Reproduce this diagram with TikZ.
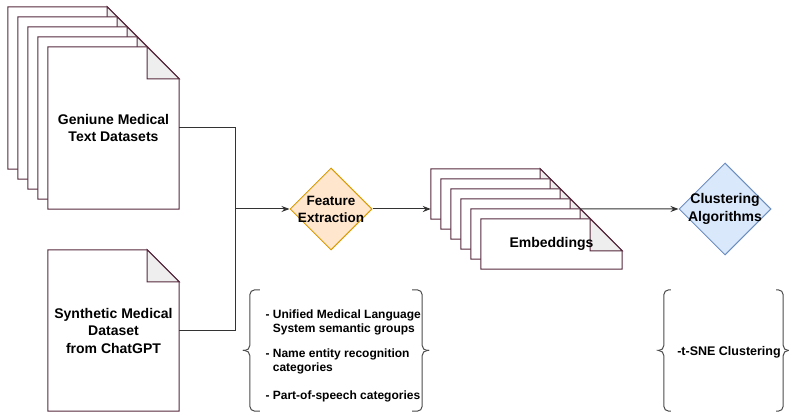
\documentclass[tikz,border=0pt]{standalone}
\usepackage{fontspec}
\setmainfont{Liberation Sans}
\usetikzlibrary{arrows.meta,positioning,shapes.geometric,calc}

\definecolor{pageedge}{HTML}{56283C}
\definecolor{foldgray}{HTML}{EEEEEE}
\definecolor{featfill}{HTML}{FFE6CC}
\definecolor{featedge}{HTML}{D79B00}
\definecolor{clusfill}{HTML}{DAE8FC}
\definecolor{clusedge}{HTML}{6C8EBF}

% one dog-eared page: name, position, size style
\newcommand{\docpage}[3]{%
  \node[pagebox, #3] (#1) at #2 {};
  \draw[page] (#1.north west) -- ([xshift=-32pt]#1.north east)
    -- ([yshift=-32pt]#1.north east) -- (#1.south east) -- (#1.south west) -- cycle;
  \draw[fold] ([xshift=-32pt]#1.north east) -- ([xshift=-32pt,yshift=-32pt]#1.north east)
    -- ([yshift=-32pt]#1.north east) -- cycle;
}

% curly brackets round a box: name, hook, tip
\newcommand{\curlypair}[3]{%
  \draw[brace] ([xshift=#2]#1.north west) -- (#1.north west) -- (#1.west) -- ([xshift=-#3]#1.west);
  \draw[brace] ([xshift=-#3]#1.west) -- (#1.west) -- (#1.south west) -- ([xshift=#2]#1.south west);
  \draw[brace] ([xshift=-#2]#1.north east) -- (#1.north east) -- (#1.east) -- ([xshift=#3]#1.east);
  \draw[brace] ([xshift=#3]#1.east) -- (#1.east) -- (#1.south east) -- ([xshift=-#2]#1.south east);
}

\begin{document}
\begin{tikzpicture}[
    x=1pt, y=1pt,
    >={Stealth[length=8pt,width=6pt]},
    pagebox/.style={rectangle, inner sep=0pt},
    genpage/.style={minimum width=131pt, minimum height=162pt},
    synpage/.style={minimum width=131pt, minimum height=161pt},
    embpage/.style={minimum width=141pt, minimum height=50pt},
    page/.style={draw=pageedge, fill=white, line width=1pt, line join=miter},
    fold/.style={draw=pageedge, fill=foldgray, line width=1pt},
    pagetext/.style={font=\fontsize{14}{17.5}\selectfont\bfseries, align=center, text=black},
    diam/.style={diamond, aspect=1, inner sep=0pt, line width=1pt},
    diamtext/.style={font=\fontsize{13.5}{17}\selectfont\bfseries, align=center, text=black},
    listtext/.style={font=\fontsize{12}{13.5}\selectfont\bfseries, align=left, text=black},
    bracebox/.style={rectangle, inner sep=0pt, minimum height=121pt},
    brace/.style={draw=black!70, line width=1pt, rounded corners=5pt},
    conn/.style={draw=black!80, line width=1pt},
    arrow/.style={->, conn}
  ]
  \useasboundingbox (0,0) rectangle (789,412);

  % Genuine datasets
  \foreach \k in {4,3,2,1} {\docpage{gen\k}{(113.5-10*\k,284+10*\k)}{genpage}}
  \docpage{gen}{(113.5,284)}{genpage}
  \node[pagetext] (gentext) at (gen.center) {Geniune Medical\\Text Datasets};

  % Synthetic dataset
  \docpage{syn}{(113.5,81.5)}{synpage}
  \node[pagetext] (syntext) at (syn.center) {Synthetic Medical\\Dataset\\from ChatGPT};

  % Feature extraction
  \coordinate (junc) at (235,203);
  \draw[conn] (gen.east) -| (junc);
  \draw[conn] (syn.east) -| (junc);
  \node[diam, fill=featfill, draw=featedge, minimum size=82pt] (feat) at (331,203) {};
  \node[diamtext] (feattext) at (feat.center) {Feature\\Extraction};
  \draw[arrow] (junc) -- (feat.west);

  \node[bracebox, minimum width=172pt] (featbox) at (336,61.5) {};
  \curlypair{featbox}{10pt}{7pt}
  \node[listtext, anchor=west] (feattypes) at (262,56)
    {- Unified Medical Language\\\phantom{- }System semantic groups\\[12pt]
     - Name entity recognition\\\phantom{- }categories\\[15pt]
     - Part-of-speech categories};

  % Embeddings
  \foreach \k in {5,4,3,2,1} {\docpage{emb\k}{(551.5-10*\k,168+10*\k)}{embpage}}
  \docpage{emb}{(551.5,168)}{embpage}
  \node[pagetext] (embtext) at (emb.center) {Embeddings};
  \draw[arrow] (feat.east) -- (feat.east -| emb5.west);

  % Clustering
  \node[diam, fill=clusfill, draw=clusedge, minimum size=92pt] (clus) at (725,203) {};
  \node[pagetext] (clustext) at (clus.center) {Clustering\\Algorithms};
  \coordinate (embout) at ([xshift=-32pt]emb1.north east);
  \draw[arrow] (embout) -- (clus.west);

  \node[bracebox, minimum width=119pt] (tsnebox) at (723.5,61.5) {};
  \curlypair{tsnebox}{7pt}{4pt}
  \node[listtext, font=\fontsize{12.5}{15}\selectfont\bfseries] (tsnetext) at (729,60) {-t-SNE Clustering};
\end{tikzpicture}
\end{document}
